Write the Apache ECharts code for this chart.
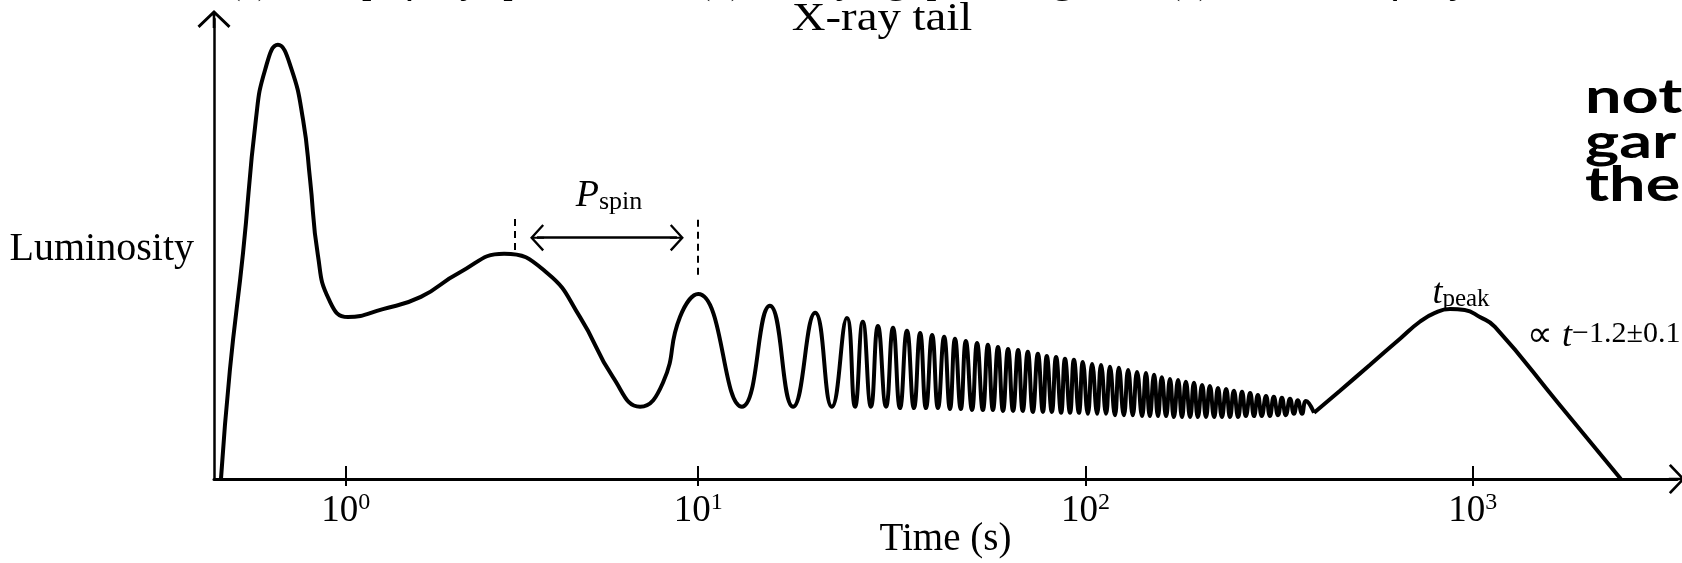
<!DOCTYPE html>
<html><head><meta charset="utf-8">
<script src="https://cdn.jsdelivr.net/npm/echarts@6/dist/echarts.min.js"></script>
<style>html,body{margin:0;padding:0;background:#fff;overflow:hidden}#c{width:1682px;height:563px}</style>
</head><body><div id="c"></div>
<script>
// x: position along the schematic log-time axis (decades, log10 t/s); y: luminosity (arbitrary units)
const spikeLogT = [-0.232, -0.209, -0.175, -0.142, -0.118, -0.085, -0.051, -0.020, -0.002, 0.018, 0.047, 0.096, 0.186, 0.284, 0.382, 0.499, 0.610, 0.695, 0.780, 0.850, 0.909, 0.953, 1.000];
const spikeLum  = [0, 23.2, 48.2, 76.5, 87.2, 92.5, 87.6, 76.5, 63.8, 47.8, 38.2, 34.5, 36.2, 38.8, 43.9, 48.0, 43.9, 34.5, 21.7, 15.4, 20.5, 34.5, 39.4];

const tailLogT = [1.113, 1.185, 1.245, 1.302, 1.345, 1.384, 1.405, 1.425, 1.446, 1.464, 1.485, 1.503, 1.521, 1.539, 1.557, 1.573, 1.588, 1.604, 1.619, 1.635,
  1.650, 1.663, 1.678, 1.691, 1.707, 1.720, 1.735, 1.748, 1.761, 1.774, 1.787, 1.800, 1.813, 1.826, 1.838, 1.851, 1.864, 1.877, 1.890, 1.900,
  1.913, 1.924, 1.937, 1.947, 1.960, 1.970, 1.983, 1.993, 2.006, 2.017, 2.030, 2.040, 2.053, 2.063, 2.076, 2.086, 2.099, 2.110, 2.122, 2.133,
  2.146, 2.156, 2.166, 2.177, 2.187, 2.197, 2.208, 2.218, 2.228, 2.239, 2.249, 2.259, 2.270, 2.280, 2.290, 2.301, 2.311, 2.321, 2.332, 2.342,
  2.352, 2.363, 2.373, 2.383, 2.394, 2.404, 2.414, 2.425, 2.435, 2.445, 2.455, 2.466, 2.476, 2.486, 2.497, 2.507, 2.517, 2.528, 2.538, 2.548,
  2.559, 2.569, 2.590];
const tailLum = [15.4, 36.9, 15.4, 35.4, 15.4, 34.3, 15.4, 33.5, 15.4, 32.6, 15.4, 32.2, 15.1, 31.6, 15.1, 31.1, 15.1, 30.7, 15.1, 30.3,
  14.9, 29.9, 14.9, 29.4, 14.7, 29.0, 14.7, 28.6, 14.7, 28.1, 14.5, 27.7, 14.5, 27.5, 14.5, 27.1, 14.3, 26.7, 14.3, 26.2,
  14.3, 26.0, 14.1, 25.6, 14.1, 25.4, 14.1, 24.9, 13.9, 24.5, 13.9, 24.3, 13.9, 23.9, 13.6, 23.7, 13.6, 23.2, 13.6, 22.8,
  13.4, 22.6, 13.4, 22.2, 13.4, 21.7, 13.4, 21.3, 13.2, 21.1, 13.2, 20.7, 13.2, 20.5, 13.2, 20.0, 13.2, 19.8, 13.2, 19.4,
  13.2, 19.2, 13.2, 18.8, 13.2, 18.6, 13.4, 18.3, 13.4, 17.9, 13.4, 17.7, 13.4, 17.5, 13.6, 17.3, 13.6, 17.1, 13.9, 16.8,
  13.9, 16.6, 14.1];

// afterglow starts at the last trough of the tail
const afterglowLogT = [2.590, 2.657, 2.734, 2.812, 2.863, 2.902, 2.941, 2.979, 3.018, 3.057, 3.220, 3.382];
const afterglowLum  = [14.1, 18.8, 24.3, 29.9, 33.5, 35.4, 36.2, 36.0, 34.5, 32.4, 16.2, 0];

const tickPos = [0.09, 1, 2, 3];
const tickExp = ['0', '1', '2', '3'];

const spinDashLogT = [0.527, 1.0];
const spinDashLow  = [48.8, 43.5];
const spinDashHigh = [55.9, 56.3];
const spinArrowLogT = [0.584, 0.945];
const spinArrowLum = 51.4;

const SERIF = "'Liberation Serif','Times New Roman',serif";
const chevron = 'path://M16.5,0 L33,15.8 L31,18 L16.5,4 L2,18 L0,15.8 Z M15.2,1 L17.8,1 L17.8,18 L15.2,18 Z';

const pair = (xs, ys) => xs.map((x, i) => [x, ys[i]]);
const earlyCurve = pair(spikeLogT, spikeLum).concat(pair(tailLogT, tailLum));
const lateCurve = pair(afterglowLogT, afterglowLum);

const chart = echarts.init(document.getElementById('c'), null, {renderer: 'canvas'});
const xBase = {type: 'value', min: -0.25, max: 3.527, splitLine: {show: false}, position: 'bottom'};
const topText = (x, y, text, align, sx) => ({type: 'text', x, y, scaleX: sx, silent: true,
  style: {text, fontFamily: SERIF, fontSize: 38, fill: '#000', align, verticalAlign: 'middle'}});
const boldText = (y, text) => ({type: 'text', x: 1585, y, scaleX: 1.35, silent: true,
  style: {text, fontFamily: 'Lato', fontWeight: 'bold', fontSize: 48, fill: '#000', align: 'left', verticalAlign: 'middle'}});
const curveStyle = {type: 'line', smooth: 0.5, showSymbol: false, symbol: 'none', lineStyle: {color: '#000', width: 4}, z: 5, silent: true};
const option = {
  animation: false,
  backgroundColor: '#fff',
  grid: {left: 214, right: 5, top: 19, bottom: 84, containLabel: false, outerBoundsMode: 'none'},
  xAxis: [
    Object.assign({}, xBase, {
      axisLine: {show: true, onZero: false, lineStyle: {color: '#000', width: 3}, symbol: ['none', chevron], symbolSize: [30, 18]},
      axisTick: {show: true, inside: true, length: 13, customValues: tickPos, lineStyle: {color: '#000', width: 2}},
      axisLabel: {show: true, customValues: tickPos, margin: 12,
        formatter: (v) => { const i = tickPos.indexOf(v); return '{b|10}{s|' + (i >= 0 ? tickExp[i] : '') + '}'; },
        rich: {b: {fontFamily: SERIF, fontSize: 37, lineHeight: 40, color: '#000'},
               s: {fontFamily: SERIF, fontSize: 24, lineHeight: 24, verticalAlign: 'top', color: '#000'}}},
      name: 'Time (s)', nameLocation: 'middle', nameGap: 41, nameMoveOverlap: false,
      nameTextStyle: {fontFamily: SERIF, fontSize: 39, color: '#000'}
    }),
    Object.assign({}, xBase, {
      axisLine: {show: false, onZero: false},
      axisTick: {show: true, inside: false, length: 7, customValues: tickPos, lineStyle: {color: '#000', width: 2}},
      axisLabel: {show: false}
    })
  ],
  yAxis: {
    type: 'value', min: 0, max: 98, splitLine: {show: false},
    axisLine: {show: true, onZero: false, lineStyle: {color: '#000', width: 2.5}, symbol: ['none', chevron], symbolSize: [33, 18]},
    axisTick: {show: false}, axisLabel: {show: false},
    name: 'Luminosity', nameLocation: 'middle', nameRotate: 0, nameGap: 20, nameMoveOverlap: false,
    nameTextStyle: {fontFamily: SERIF, fontSize: 40, color: '#000', padding: [0, 0, 14, 0]}
  },
  series: [
    Object.assign({data: earlyCurve}, curveStyle),
    Object.assign({data: lateCurve}, curveStyle),
    {
      type: 'line', data: [], silent: true,
      markLine: {
        silent: true, animation: false, symbol: 'none', label: {show: false},
        data: [
          [{coord: [spinDashLogT[0], spinDashLow[0]], lineStyle: {color: '#000', width: 2, type: [7, 5]}}, {coord: [spinDashLogT[0], spinDashHigh[0]]}],
          [{coord: [spinDashLogT[1], spinDashLow[1]], lineStyle: {color: '#000', width: 2, type: [7, 5]}}, {coord: [spinDashLogT[1], spinDashHigh[1]]}],
          [{coord: [spinArrowLogT[0], spinArrowLum], symbol: chevron, symbolSize: [27, 14], lineStyle: {color: '#000', width: 2.5, type: 'solid'}},
           {coord: [spinArrowLogT[1], spinArrowLum], symbol: chevron, symbolSize: [27, 14]}]
        ]
      }
    }
  ],
  graphic: [
    topText(228, -17, '(a) Prompt γ-ray spike', 'left', 1.0),
    topText(885, -17, '(b) Decaying, pulsating', 'center', 1.05),
    {type: 'text', x: 882, y: 20, scaleX: 1.2, silent: true, style: {text: 'X-ray tail', fontFamily: SERIF, fontSize: 39, fill: '#000', align: 'center', verticalAlign: 'middle'}},
    topText(1167, -17, '(c) Extended γ-ray emission', 'left', 1.07),
    {type: 'text', x: 609, y: 196, silent: true, style: {text: '{p|P}{s|spin}', align: 'center', verticalAlign: 'middle',
      rich: {p: {fontFamily: SERIF, fontStyle: 'italic', fontSize: 38, lineHeight: 38, fill: '#000'},
             s: {fontFamily: SERIF, fontSize: 26, lineHeight: 26, verticalAlign: 'bottom', fill: '#000'}}}},
    {type: 'text', x: 1461, y: 294, silent: true, style: {text: '{p|t}{s|peak}', align: 'center', verticalAlign: 'middle',
      rich: {p: {fontFamily: SERIF, fontStyle: 'italic', fontSize: 36, lineHeight: 36, fill: '#000'},
             s: {fontFamily: SERIF, fontSize: 25, lineHeight: 25, verticalAlign: 'bottom', fill: '#000'}}}},
    {type: 'text', x: 1527, y: 337, silent: true, style: {text: '{a|∝ }{p|t}{s|−1.2±0.1}', align: 'left', verticalAlign: 'middle',
      rich: {a: {fontFamily: SERIF, fontSize: 36, lineHeight: 36, fill: '#000'},
             p: {fontFamily: SERIF, fontStyle: 'italic', fontSize: 36, lineHeight: 36, fill: '#000'},
             s: {fontFamily: SERIF, fontSize: 30, lineHeight: 30, verticalAlign: 'top', fill: '#000'}}}},
    boldText(98, 'not'),
    boldText(143, 'gar'),
    boldText(186, 'the')
  ]
};
chart.setOption(option);
</script>
</body></html>
